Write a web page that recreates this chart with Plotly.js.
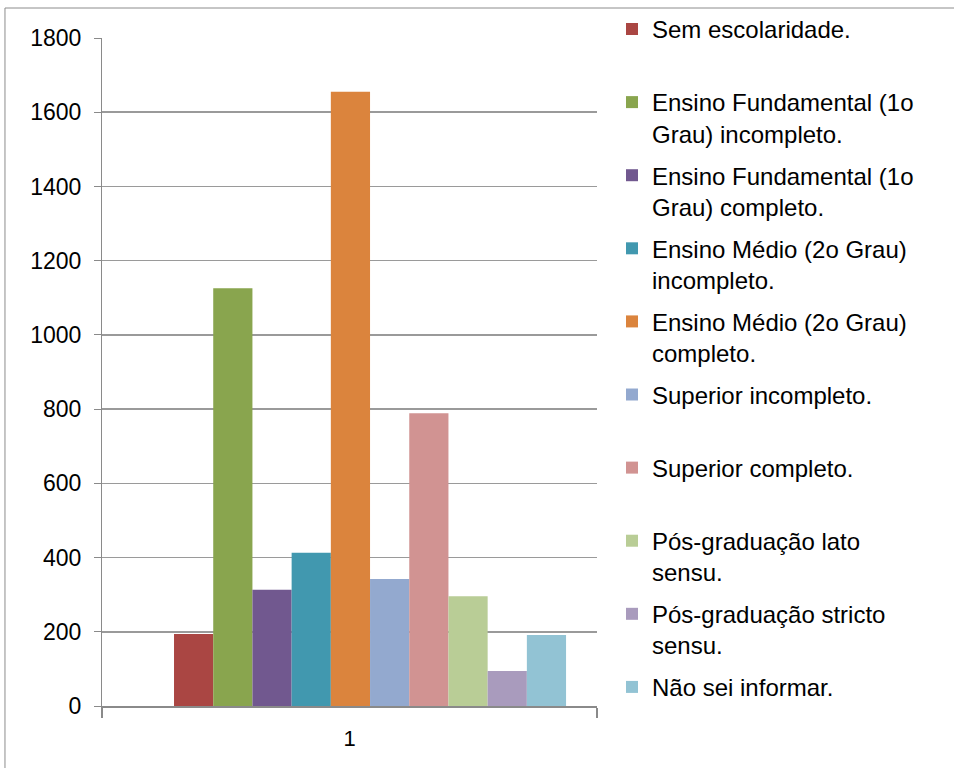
<!DOCTYPE html>
<html>
<head>
<meta charset="utf-8">
<script src="https://cdn.plot.ly/plotly-3.0.1.min.js"></script>
<style>
  html, body { margin: 0; padding: 0; background: #ffffff; }
  #chart { width: 954px; height: 768px; }
</style>
</head>
<body>
<div id="chart"></div>
<script>
// ---- data ----
const categories = ["1"];
const seriesNames = [
  "Sem escolaridade.",
  "Ensino Fundamental (1o Grau) incompleto.",
  "Ensino Fundamental (1o Grau) completo.",
  "Ensino Médio (2o Grau) incompleto.",
  "Ensino Médio (2o Grau) completo.",
  "Superior incompleto.",
  "Superior completo.",
  "Pós-graduação lato sensu.",
  "Pós-graduação stricto sensu.",
  "Não sei informar."
];
const legendLabels = [
  "Sem escolaridade.<br>\u00a0",
  "Ensino Fundamental (1o<br>Grau) incompleto.",
  "Ensino Fundamental (1o<br>Grau) completo.",
  "Ensino Médio (2o Grau)<br>incompleto.",
  "Ensino Médio (2o Grau)<br>completo.",
  "Superior incompleto.<br>\u00a0",
  "Superior completo.<br>\u00a0",
  "Pós-graduação lato<br>sensu.",
  "Pós-graduação stricto<br>sensu.",
  "Não sei informar."
];
const seriesValues = [194, 1126, 313, 413, 1655, 342, 789, 296, 94, 191];
const seriesColors = ["#AA4643", "#89A54E", "#71588F", "#4198AF", "#DB843D",
                      "#93A9CF", "#D19392", "#B9CD96", "#A99BBD", "#92C3D4"];
const yTickValues = [0, 200, 400, 600, 800, 1000, 1200, 1400, 1600, 1800];

// ---- style ----
const FONT = "Liberation Sans, Arial, sans-serif";
const barWidth = 0.0792;
const groupStart = -0.3545;

const traces = seriesValues.map((v, i) => ({
  type: "bar",
  name: legendLabels[i],
  legendgroup: "g" + i,
  x: categories,
  y: [v],
  width: barWidth,
  offset: groupStart + i * barWidth,
  marker: { color: seriesColors[i], line: { width: 0 } },
  hovertext: seriesNames[i],
  hoverinfo: "text+y"
}));

const layout = {
  width: 954,
  height: 768,
  margin: { l: 102, r: 357, t: 38, b: 62, pad: 0, autoexpand: false },
  paper_bgcolor: "#ffffff",
  plot_bgcolor: "#ffffff",
  barmode: "overlay",
  font: { family: FONT, size: 22, color: "#000000" },
  showlegend: true,
  legend: {
    xref: "paper", yref: "container",
    x: 1.0303, xanchor: "left",
    y: 0.991, yanchor: "top",
    maxheight: 760,
    font: { family: FONT, size: 24, color: "#000000" },
    valign: "top",
    tracegroupgap: 7.7,
    itemclick: false,
    bgcolor: "rgba(0,0,0,0)"
  },
  xaxis: {
    type: "category",
    categoryorder: "array",
    categoryarray: categories,
    range: [-0.5, 0.5],
    showline: true,
    linecolor: "#8a8a8a",
    linewidth: 2,
    ticks: "outside",
    tickson: "boundaries",
    ticklen: 10,
    tickcolor: "#8a8a8a",
    tickwidth: 2,
    ticklabelstandoff: 12,
    showgrid: false,
    zeroline: false,
    tickfont: { family: FONT, size: 22, color: "#000000" },
    fixedrange: true
  },
  yaxis: {
    range: [0, 1800],
    tickvals: yTickValues,
    ticktext: yTickValues.map(String),
    showline: true,
    linecolor: "#8a8a8a",
    linewidth: 1,
    ticks: "outside",
    ticklen: 7,
    tickcolor: "#8a8a8a",
    tickwidth: 1,
    ticklabelstandoff: 8,
    showgrid: true,
    gridcolor: "#9a9a9a",
    gridwidth: 1.5,
    zeroline: false,
    tickfont: { family: FONT, size: 23, color: "#000000" },
    fixedrange: true
  },
  shapes: [{
    type: "rect", xref: "paper", yref: "paper",
    x0: -0.196, x1: 1.8, y0: -0.3, y1: 1.0449,
    line: { color: "#8c8c8c", width: 1 },
    fillcolor: "rgba(0,0,0,0)",
    layer: "below"
  }]
};

Plotly.newPlot("chart", traces, layout, { displayModeBar: false, staticPlot: true });
</script>
</body>
</html>
